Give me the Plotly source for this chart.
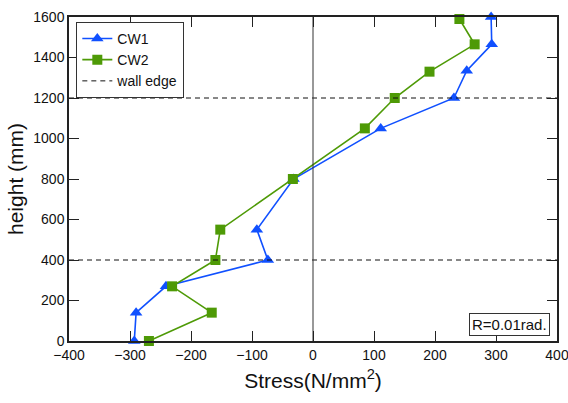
import plotly.graph_objects as go

heights_cw1 = [0, 140, 270, 400, 550, 800, 1050, 1200, 1335, 1465, 1600]
stress_cw1 = [-293, -290, -241, -74, -92, -32, 111, 231, 252, 293, 292]
heights_cw2 = [0, 140, 270, 400, 550, 800, 1050, 1200, 1330, 1465, 1590]
stress_cw2 = [-269, -166, -231, -160, -152, -33, 85, 134, 191, 265, 240]
wall_edges = [400, 1200]
x_range = [-400, 400]
y_range = [0, 1600]
x_ticks = [-400, -300, -200, -100, 0, 100, 200, 300, 400]
y_ticks = [0, 200, 400, 600, 800, 1000, 1200, 1400, 1600]

FONT = "Liberation Sans, Arial, sans-serif"
BLUE = "#1050ff"
GREEN = "#4e9a06"

fig = go.Figure()
fig.add_trace(go.Scatter(x=stress_cw1, y=heights_cw1, mode="lines+markers", name="CW1",
                         line=dict(color=BLUE, width=1.6),
                         marker=dict(symbol="triangle-up", size=11, color=BLUE),
                         cliponaxis=False))
fig.add_trace(go.Scatter(x=stress_cw2, y=heights_cw2, mode="lines+markers", name="CW2",
                         line=dict(color=GREEN, width=1.6),
                         marker=dict(symbol="square", size=10, color=GREEN),
                         cliponaxis=False))
fig.add_trace(go.Scatter(x=[x_range[0], x_range[1], None, x_range[0], x_range[1]],
                         y=[wall_edges[0], wall_edges[0], None, wall_edges[1], wall_edges[1]],
                         mode="lines", name="wall edge",
                         line=dict(color="#111111", width=1, dash="5px,4px")))
fig.add_trace(go.Scatter(x=[0, 0], y=y_range, mode="lines", showlegend=False,
                         line=dict(color="#333333", width=1)))

axis_common = dict(showgrid=False, zeroline=False, showline=True, linecolor="#222222",
                   linewidth=1.5, mirror="ticks", ticks="inside", ticklen=10,
                   tickcolor="#222222", tickwidth=1, automargin=False,
                   ticklabeloverflow="allow",
                   tickfont=dict(family=FONT, size=14, color="#111111"))

fig.update_layout(
    width=568, height=403,
    margin=dict(l=69, r=11, t=17, b=62),
    plot_bgcolor="white", paper_bgcolor="white",
    font=dict(family=FONT, color="#111111"),
    xaxis=dict(range=x_range, tickvals=x_ticks, ticktext=[str(v).replace("-", "\u2212") for v in x_ticks],
               title=dict(text="Stress(N/mm<sup>2</sup>)", font=dict(size=21, family=FONT), standoff=12),
               **axis_common),
    yaxis=dict(range=y_range, tickvals=y_ticks,
               title=dict(text="height (mm)", font=dict(size=21, family=FONT), standoff=4),
               **axis_common),
    legend=dict(x=0.015, y=0.985, xanchor="left", yanchor="top",
                bgcolor="white", bordercolor="#333333", borderwidth=1,
                font=dict(family=FONT, size=14), tracegroupgap=0, itemwidth=30),
    showlegend=True,
)
fig.add_annotation(x=0.985, y=0.015, xref="paper", yref="paper", xanchor="right", yanchor="bottom",
                   text="R=0.01rad.", showarrow=False, font=dict(family=FONT, size=15, color="#111111"),
                   bgcolor="white", bordercolor="#333333", borderwidth=1, borderpad=2)

fig.write_html("out.html")
